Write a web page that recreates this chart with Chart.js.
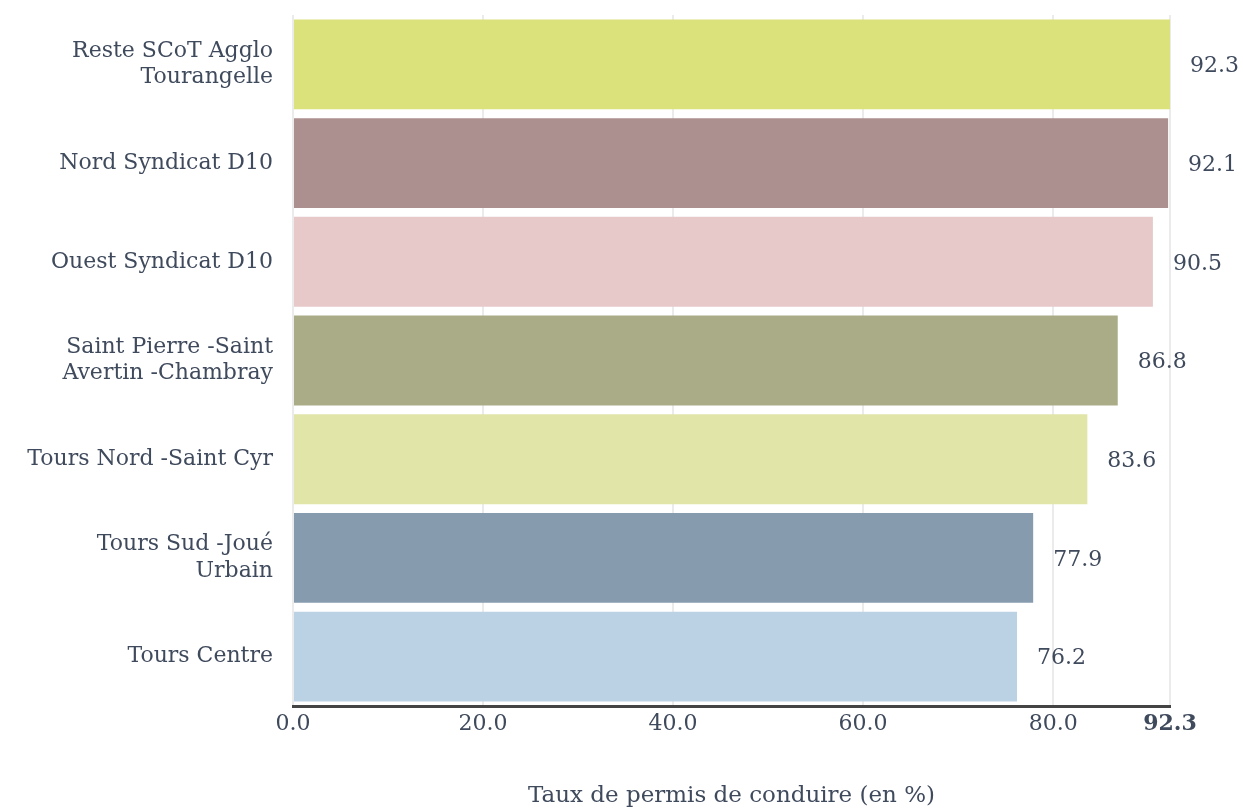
<!DOCTYPE html>
<html>
<head>
<meta charset="utf-8">
<script src="https://cdn.jsdelivr.net/npm/chart.js@4"></script>
<style>
  html, body { margin: 0; padding: 0; background: #fff; }
  #wrap { width: 1243px; height: 808px; }
</style>
</head>
<body>
<div id="wrap"><canvas id="myChart" width="1243" height="808"></canvas></div>
<script>
var categories = [
    ['Reste SCoT Agglo', 'Tourangelle'],
    'Nord Syndicat D10',
    'Ouest Syndicat D10',
    ['Saint Pierre -Saint', 'Avertin -Chambray'],
    'Tours Nord -Saint Cyr',
    ['Tours Sud -Joué', 'Urbain'],
    'Tours Centre'
];
var values = [92.3, 92.1, 90.5, 86.8, 83.6, 77.9, 76.2];
var tickValues = [0, 20, 40, 60, 80, 92.3];
var barColors = ['#dce27b', '#ac8f8f', '#e7c9ca', '#aaac88', '#e1e5a7', '#869bae', '#bbd2e5'];

var textColor = '#3f4a5c';
var fontFamily = '"DejaVu Serif", "Liberation Serif", serif';

// values written to the right of each bar
var valueLabels = {
    id: 'valueLabels',
    afterDatasetsDraw: function(chart) {
        var c = chart.ctx;
        var meta = chart.getDatasetMeta(0);
        c.save();
        c.font = '22px ' + fontFamily;
        c.fillStyle = textColor;
        c.textAlign = 'left';
        c.textBaseline = 'middle';
        meta.data.forEach(function(bar, i) {
            c.fillText(values[i].toFixed(1), bar.x + 20, bar.y + 2);
        });
        c.restore();
    }
};

var ctx = document.getElementById('myChart').getContext('2d');

var myChart = new Chart(ctx, {
    type: 'bar',
    data: {
        labels: categories,
        datasets: [{
            data: values,
            backgroundColor: barColors,
            borderWidth: 0,
            barPercentage: 0.91,
            categoryPercentage: 1
        }]
    },
    options: {
        indexAxis: 'y',
        responsive: false,
        animation: false,
        layout: { padding: { top: 15, right: 73, left: 0, bottom: 0 } },
        plugins: {
            legend: { display: false },
            tooltip: { enabled: false }
        },
        scales: {
            x: {
                min: 0,
                max: 92.3,
                z: 1,
                afterBuildTicks: function(scale) {
                    scale.ticks = tickValues.map(function(v) { return { value: v }; });
                },
                afterFit: function(scale) { scale.height = 102; },
                grid: { color: 'rgba(0,0,0,0.08)', lineWidth: 2, drawTicks: false },
                border: { color: '#444444', width: 3 },
                ticks: {
                    color: textColor,
                    padding: 5,
                    maxRotation: 0,
                    autoSkip: false,
                    font: function(c) {
                        var last = c.tick && c.tick.value === 92.3;
                        return { family: fontFamily, size: 22, weight: last ? 'bold' : 'normal' };
                    },
                    callback: function(v) { return Number(v).toFixed(1); }
                },
                title: {
                    display: true,
                    text: 'Taux de permis de conduire (en %)',
                    color: textColor,
                    font: { family: fontFamily, size: 23 },
                    padding: { top: 38, bottom: -2 }
                }
            },
            y: {
                afterFit: function(scale) {
                    scale.width = 293;
                    scale.paddingTop = 0;
                    scale.paddingBottom = 0;
                },
                grid: { display: false },
                border: { display: false },
                ticks: {
                    color: textColor,
                    padding: 12,
                    font: { family: fontFamily, size: 22 }
                }
            }
        }
    },
    plugins: [valueLabels]
});
</script>
</body>
</html>
